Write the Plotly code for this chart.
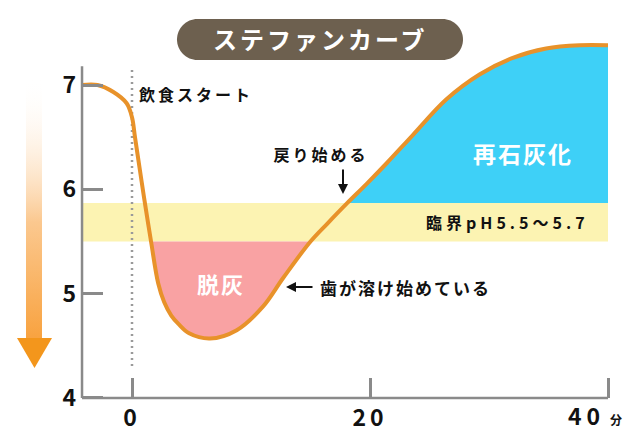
import plotly.graph_objects as go

# ---- data ----
time_min = [-4.2, -2.9, -1.6, -0.45, 0.0, 0.25, 0.67, 1.0, 1.6, 2.2, 2.7, 3.3, 3.9, 4.8, 6.55,
            8.8, 11.0, 12.7, 15.0, 16.4, 18.1, 19.7, 21.4, 23.6, 26.4, 29.2, 32.0, 34.8, 37.6, 40.0]
ph = [7.0, 7.0, 6.935, 6.825, 6.69, 6.5, 6.18, 5.93, 5.5, 5.1, 4.92, 4.79, 4.71, 4.62, 4.57,
      4.65, 4.875, 5.15, 5.5, 5.67, 5.87, 6.05, 6.25, 6.52, 6.86, 7.10, 7.26, 7.35, 7.38, 7.38]
critical_low, critical_high = 5.5, 5.87
x_ticks = [0, 20, 40]
x_ticktext = ["0", "20", ""]
y_ticks = [4, 5, 6, 7]
x_start, x_end = -4.2, 40
y_axis_top = 7.18
meal_start = 0

FONT = "Noto Sans CJK JP"
ORANGE = "#e8922a"
GREY = "#8a8a8a"

# pixel <-> data helpers for decorative placement (plot area = full page)
W, H = 640, 447
def px2x(px):
    return (px - 132) / 11.9
def py2y(py):
    return 7 - (py - 85) / 104.33

fig = go.Figure()

# demineralisation (below critical pH)
pink_t = [t for t, p in zip(time_min, ph) if p <= critical_low]
pink_p = [p for p in ph if p <= critical_low]
fig.add_trace(go.Scatter(x=[pink_t[0], pink_t[-1]], y=[critical_low, critical_low],
                         mode="lines", line=dict(width=0), hoverinfo="skip", showlegend=False))
fig.add_trace(go.Scatter(x=pink_t, y=pink_p, mode="lines", line=dict(width=0, shape="spline"),
                         fill="tonexty", fillcolor="#f9a2a3", hoverinfo="skip", showlegend=False))

# remineralisation (above critical band, after recovery)
blue_t = [t for t, p in zip(time_min, ph) if p >= critical_high and t > 10]
blue_p = [p for t, p in zip(time_min, ph) if p >= critical_high and t > 10]
fig.add_trace(go.Scatter(x=[blue_t[0], blue_t[-1]], y=[critical_high, critical_high],
                         mode="lines", line=dict(width=0), hoverinfo="skip", showlegend=False))
fig.add_trace(go.Scatter(x=blue_t, y=blue_p, mode="lines", line=dict(width=0, shape="spline"),
                         fill="tonexty", fillcolor="#3ed0f7", hoverinfo="skip", showlegend=False))

# main curve
fig.add_trace(go.Scatter(x=time_min, y=ph, mode="lines",
                         line=dict(color=ORANGE, width=4, shape="spline", smoothing=1.0),
                         hoverinfo="skip", showlegend=False))

# left gradient arrow (decoration)
sx0, sx1, stop, sbot = px2x(26), px2x(42), py2y(78), py2y(340)
fig.add_trace(go.Scatter(x=[sx0, sx1, sx1, sx0, sx0], y=[stop, stop, sbot, sbot, stop],
                         mode="lines", line=dict(width=0), fill="toself",
                         fillgradient=dict(type="vertical",
                                           colorscale=[[0, "#f8a23f"], [0.45, "#fbc88f"],
                                                       [1, "rgba(255,255,255,0)"]]),
                         hoverinfo="skip", showlegend=False))
fig.add_trace(go.Scatter(x=[px2x(17), px2x(52), px2x(34.5), px2x(17)],
                         y=[py2y(338), py2y(338), py2y(368), py2y(338)],
                         mode="lines", line=dict(width=0), fill="toself", fillcolor="#f3961c",
                         hoverinfo="skip", showlegend=False))

shapes = [
    dict(type="rect", xref="x", yref="y", x0=x_start, x1=x_end, y0=critical_low, y1=critical_high,
         fillcolor="#fcf3b2", line=dict(width=0), layer="below"),
    dict(type="line", xref="x", yref="y", x0=x_start, x1=x_end, y0=4, y1=4,
         line=dict(color=GREY, width=2.5)),
    dict(type="line", xref="x", yref="y", x0=x_start, x1=x_start, y0=4, y1=y_axis_top,
         line=dict(color=GREY, width=2.5)),
    dict(type="line", xref="x", yref="y", x0=meal_start, x1=meal_start, y0=py2y(366), y1=py2y(70),
         line=dict(color="#9a9a9a", width=2.5, dash="2px,4px"), layer="below"),
]

# title pill (pixel path centred on anchor)
r, hw = 20.5, 143
k = 0.5523 * r
a = hw - r
pill = (f"M {-a},{-r} L {a},{-r} C {a+k},{-r} {hw},{-k} {hw},0 "
        f"C {hw},{k} {a+k},{r} {a},{r} L {-a},{r} "
        f"C {-a-k},{r} {-hw},{k} {-hw},0 C {-hw},{-k} {-a-k},{-r} {-a},{-r} Z")
shapes.append(dict(type="path", xref="paper", yref="paper", xsizemode="pixel", ysizemode="pixel",
                   xanchor=320 / W, yanchor=1 - 39.5 / H, path=pill,
                   fillcolor="#6d604f", line=dict(width=0)))

def label(text, cx, cy, size, color="#111"):
    return dict(text=text, x=px2x(cx), y=py2y(cy), xanchor="center", yanchor="middle",
                showarrow=False, font=dict(family=FONT, size=size, color=color, weight="bold"))

annotations = [
    dict(text="ステファンカーブ", xref="paper", yref="paper", x=320 / W, y=1 - 39 / H,
         xanchor="center", yanchor="middle", showarrow=False,
         font=dict(family=FONT, size=24, color="white", weight="bold")),
    label("飲食スタート", 196, 94, 16),
    label("戻り始める", 321, 154, 16),
    dict(text="", x=px2x(343), y=py2y(194), ax=px2x(343), ay=py2y(168), axref="x", ayref="y",
         showarrow=True, arrowhead=2, arrowsize=1, arrowwidth=2, arrowcolor="#111"),
    label("臨界pH5.5～5.7", 507, 222, 16),
    dict(text="", x=px2x(286), y=py2y(287), ax=px2x(314), ay=py2y(287), axref="x", ayref="y",
         showarrow=True, arrowhead=2, arrowsize=1, arrowwidth=2, arrowcolor="#111"),
    label("歯が溶け始めている", 405, 287, 17),
    label("脱灰", 221, 283, 22, "white"),
    label("再石灰化", 523, 153, 23, "white"),
    label("40", 586, 415, 23),
    label("分", 616, 419, 12),
]
# letter spacing (px) for each annotation index, matching the reference's airy text
spacing = {0: 3, 1: 3, 2: 3, 4: 4, 6: 2, 7: 2, 8: 2, 9: 5}

fig.update_layout(
    template="none",
    width=W, height=H,
    margin=dict(l=0, r=0, t=0, b=0),
    paper_bgcolor="white", plot_bgcolor="white",
    showlegend=False,
    shapes=shapes,
    annotations=annotations,
    xaxis=dict(range=[px2x(0), px2x(W)], anchor="free", position=(H - 398) / H,
               tickvals=x_ticks, ticktext=x_ticktext, ticks="inside", ticklen=20,
               tickwidth=2.5, tickcolor=GREY, showline=False, showgrid=False, zeroline=False,
               automargin=False, ticklabelstandoff=4,
               tickfont=dict(family=FONT, size=23, color="#111", weight="bold")),
    yaxis=dict(range=[py2y(H), py2y(0)], anchor="free", position=82 / W,
               tickvals=y_ticks, ticks="inside", ticklen=20,
               tickwidth=2.5, tickcolor=GREY, showline=False, showgrid=False, zeroline=False,
               automargin=False, ticklabelstandoff=6,
               tickfont=dict(family=FONT, size=23, color="#111", weight="bold")),
)

sp_js = "{" + ",".join(f'"{i}":{v}' for i, v in spacing.items()) + "}"
post = (
    "document.body.style.margin='0';"
    "var gd=document.getElementById('{plot_id}');"
    "var sp=" + sp_js + ";"
    "gd.querySelectorAll('g.annotation').forEach(function(g){"
    "var i=g.getAttribute('data-index');var t=g.querySelector('text.annotation-text');"
    "if(t && sp[i]!==undefined){t.style.letterSpacing=sp[i]+'px';}});"
    "gd.querySelectorAll('.xtick text').forEach(function(t){t.style.letterSpacing='4px';});"
)
fig.write_html("out.html", post_script=post, config={"displayModeBar": False})
